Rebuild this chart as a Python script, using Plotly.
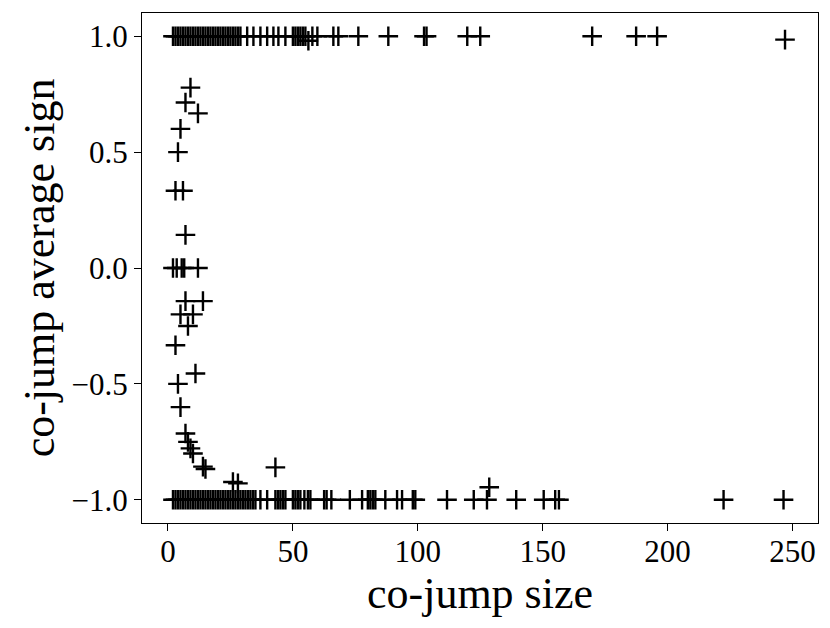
import plotly.graph_objects as go

# co-jumps where every asset moved up (average sign = +1)
up_sizes = list(range(2, 29)) + [29, 31.7, 34.2, 37, 39.7, 42.2, 44.2, 47,
                                 50, 51, 52, 53, 54, 55, 57.8, 59.8, 66.2, 68.2,
                                 76.2, 88.2, 102.5, 103.5, 119.8, 125, 169.8,
                                 187.4, 195.8]
up_signs = [1.0] * len(up_sizes)

# co-jumps where every asset moved down (average sign = -1)
down_sizes = list(range(2, 36)) + [37, 39.7, 43, 44, 45, 46, 47, 50, 51, 52, 53,
                                   54.6, 56, 57, 62.5, 63.5, 65.4, 72.8, 77.7, 80,
                                   81, 82, 83, 87, 91.7, 93.7, 98, 99, 111.7,
                                   122.4, 127.7, 139.4, 150.4, 155, 156.5, 222.4,
                                   246.4]
down_signs = [-1.0] * len(down_sizes)

# mixed co-jumps
mixed_sizes = [56.2, 247, 9, 7, 12, 5, 4, 3, 6, 7, 2, 3.5, 5.5, 6.5, 12, 7, 14, 5,
               10, 8, 3, 11, 4, 5, 7, 8, 9, 10, 14, 15, 26, 28, 43, 128.6]
mixed_signs = [0.98, 0.985, 0.778, 0.714, 0.667, 0.6, 0.5, 0.333, 0.333, 0.143,
               0.0, 0.0, 0.0, 0.0, 0.0, -0.143, -0.143, -0.2, -0.2, -0.25, -0.333,
               -0.455, -0.5, -0.6, -0.714, -0.75, -0.778, -0.8, -0.857, -0.867,
               -0.923, -0.929, -0.86, -0.946]

sizes = up_sizes + down_sizes + mixed_sizes
signs = up_signs + down_signs + mixed_signs

FONT = "Liberation Serif"

fig = go.Figure()
fig.add_trace(go.Scatter(
    x=sizes, y=signs, mode="markers",
    marker=dict(symbol="cross-thin", size=14, color="black",
                line=dict(color="black", width=2.4)),
    showlegend=False,
))

axis_common = dict(
    showline=True, linecolor="black", linewidth=1.3, mirror=True,
    ticks="outside", ticklen=7, tickwidth=1.2, tickcolor="black",
    showgrid=False, zeroline=False,
    tickfont=dict(family=FONT, size=31, color="black"),
)
fig.update_xaxes(
    range=[-10.4, 260.2], tickvals=[0, 50, 100, 150, 200, 250],
    ticklabelstandoff=-6,
    title=dict(text="co-jump size", standoff=8,
               font=dict(family=FONT, size=44, color="black")),
    **axis_common,
)
fig.update_yaxes(
    range=[-1.1, 1.1], tickvals=[-1.0, -0.5, 0.0, 0.5, 1.0], tickformat=".1f",
    title=dict(text="co-jump average sign", standoff=3,
               font=dict(family=FONT, size=44, color="black")),
    **axis_common,
)
fig.update_layout(
    width=830, height=628,
    margin=dict(l=134, r=20, t=5, b=113, autoexpand=False),
    plot_bgcolor="white", paper_bgcolor="white",
)
fig.write_html("out.html")
